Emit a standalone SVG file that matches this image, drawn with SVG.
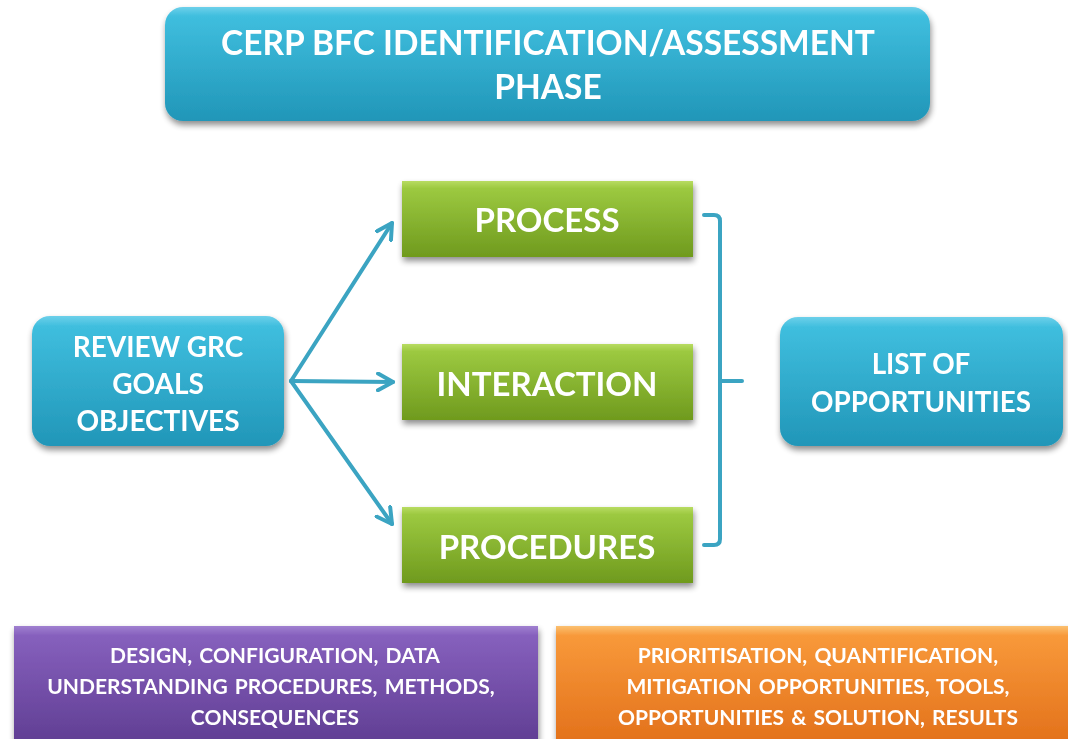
<svg xmlns="http://www.w3.org/2000/svg" width="1068" height="739" viewBox="0 0 1068 739">
  <style>
    .t { font-family: Lato, "Open Sans", "Liberation Sans", sans-serif; font-weight: bold; fill: #ffffff; text-anchor: middle; }
    .small { font-size: 21px; word-spacing: 2px; }
    .conn { fill: none; stroke: #3ba4c2; stroke-width: 4; stroke-linecap: round; stroke-linejoin: round; }
  </style>
  <defs>
    <linearGradient id="blue" x1="0" y1="0" x2="0" y2="1">
      <stop offset="0" stop-color="#6dd0ea"/>
      <stop offset="0.08" stop-color="#3fbede"/>
      <stop offset="1" stop-color="#2196b8"/>
    </linearGradient>
    <linearGradient id="green" x1="0" y1="0" x2="0" y2="1">
      <stop offset="0" stop-color="#b8dc62"/>
      <stop offset="0.1" stop-color="#9cc940"/>
      <stop offset="1" stop-color="#6f9a1e"/>
    </linearGradient>
    <linearGradient id="purple" x1="0" y1="0" x2="0" y2="1">
      <stop offset="0" stop-color="#a080d0"/>
      <stop offset="0.08" stop-color="#8660bd"/>
      <stop offset="1" stop-color="#5f3d92"/>
    </linearGradient>
    <linearGradient id="orange" x1="0" y1="0" x2="0" y2="1">
      <stop offset="0" stop-color="#fbc070"/>
      <stop offset="0.08" stop-color="#f8993a"/>
      <stop offset="1" stop-color="#e2701a"/>
    </linearGradient>
    <filter id="shadow" x="-10%" y="-20%" width="120%" height="150%">
      <feGaussianBlur in="SourceAlpha" stdDeviation="3"/>
      <feOffset dx="1" dy="4" result="b"/>
      <feComponentTransfer><feFuncA type="linear" slope="0.45"/></feComponentTransfer>
      <feMerge><feMergeNode/><feMergeNode in="SourceGraphic"/></feMerge>
    </filter>
    <marker id="chev" viewBox="0 0 12 12" refX="10" refY="6" markerWidth="5" markerHeight="5" orient="auto" markerUnits="strokeWidth">
      <path d="M1,1 L10,6 L1,11" fill="none" stroke="#3ba4c2" stroke-width="2.4" stroke-linecap="round" stroke-linejoin="round"/>
    </marker>
  </defs>

  <rect width="1068" height="739" fill="#ffffff"/>

  <!-- connectors: fan-out arrows and the gathering bracket -->
  <g id="connectors">
    <line class="conn" x1="291" y1="381" x2="392" y2="223" marker-end="url(#chev)"/>
    <line class="conn" x1="291" y1="381" x2="393" y2="382" marker-end="url(#chev)"/>
    <line class="conn" x1="291" y1="381" x2="392" y2="524" marker-end="url(#chev)"/>
    <path class="conn" d="M704,215 H714 Q720,215 720,221 V539 Q720,545 714,545 H704"/>
    <line class="conn" x1="720" y1="381" x2="742" y2="381"/>
  </g>

  <g id="title" filter="url(#shadow)">
    <rect x="165" y="7" width="765" height="114" rx="18" fill="url(#blue)"/>
    <text class="t" x="548" y="55" font-size="33.5">CERP BFC IDENTIFICATION/ASSESSMENT</text>
    <text class="t" x="548" y="99" font-size="33.5">PHASE</text>
  </g>

  <g id="review" filter="url(#shadow)">
    <rect x="32" y="316" width="252" height="130" rx="18" fill="url(#blue)"/>
    <text class="t" x="158" y="357" font-size="28">REVIEW GRC</text>
    <text class="t" x="158" y="394" font-size="28">GOALS</text>
    <text class="t" x="158" y="431" font-size="28">OBJECTIVES</text>
  </g>

  <g id="process" filter="url(#shadow)">
    <rect x="402" y="181" width="291" height="76" fill="url(#green)"/>
    <text class="t" x="547" y="232" font-size="33">PROCESS</text>
  </g>

  <g id="interaction" filter="url(#shadow)">
    <rect x="402" y="344" width="291" height="76" fill="url(#green)"/>
    <text class="t" x="547" y="396" font-size="33">INTERACTION</text>
  </g>

  <g id="procedures" filter="url(#shadow)">
    <rect x="402" y="507" width="291" height="76" fill="url(#green)"/>
    <text class="t" x="547" y="559" font-size="33">PROCEDURES</text>
  </g>

  <g id="opportunities" filter="url(#shadow)">
    <rect x="780" y="317" width="283" height="129" rx="18" fill="url(#blue)"/>
    <text class="t" x="921" y="374" font-size="27.8">LIST OF</text>
    <text class="t" x="921" y="412" font-size="27.8">OPPORTUNITIES</text>
  </g>

  <g id="design" filter="url(#shadow)">
    <rect x="14" y="626" width="524" height="120" fill="url(#purple)"/>
    <text class="t small" x="275" y="663">DESIGN, CONFIGURATION, DATA</text>
    <text class="t small" x="271" y="694">UNDERSTANDING PROCEDURES, METHODS,</text>
    <text class="t small" x="275" y="725">CONSEQUENCES</text>
  </g>

  <g id="prioritisation" filter="url(#shadow)">
    <rect x="556" y="626" width="520" height="120" fill="url(#orange)"/>
    <text class="t small" x="818" y="663">PRIORITISATION, QUANTIFICATION,</text>
    <text class="t small" x="818" y="694">MITIGATION OPPORTUNITIES, TOOLS,</text>
    <text class="t small" x="818" y="725">OPPORTUNITIES &amp; SOLUTION, RESULTS</text>
  </g>
</svg>
